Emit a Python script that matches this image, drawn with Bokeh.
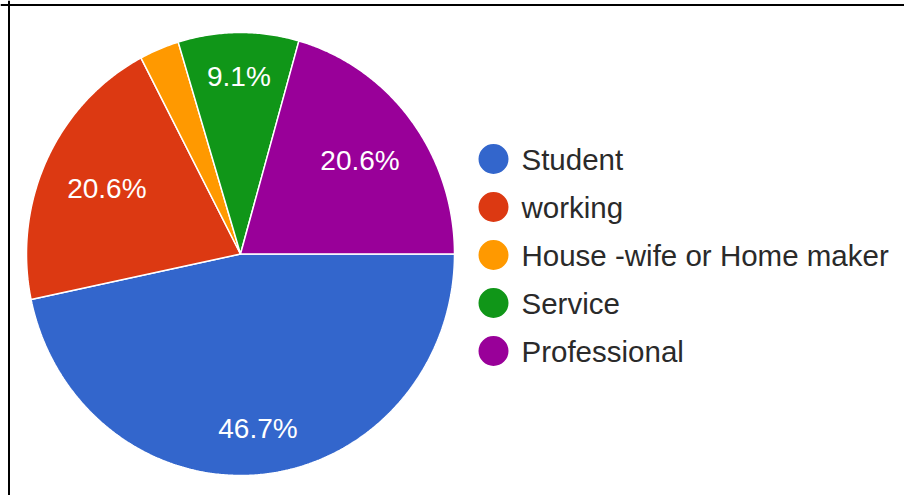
import numpy as np
from bokeh.plotting import figure
from bokeh.models import Range1d, Span, ColumnDataSource
from bokeh.core.properties import value
from bokeh.embed import file_html
from bokeh.resources import INLINE

# ---- data ----
categories = ["Student", "working", "House -wife or Home maker", "Service", "Professional"]
percents = [46.7, 20.6, 3.0, 9.1, 20.6]
colors = ["#3366CC", "#DC3912", "#FF9900", "#109618", "#990099"]

# ---- layout (pixel space) ----
W, H = 904, 495
CX, CY = 240.0, 253.5
RX, RY = 214.0, 221.5
LABEL_FS = 28
LEG_FS = 29.5
LEG_X, LEG_Y0, LEG_DY = 493.0, 158.5, 48.0

p = figure(width=W, height=H, output_backend="svg", toolbar_location=None,
           x_range=Range1d(0, W), y_range=Range1d(H, 0),
           x_axis_location=None, y_axis_location=None, min_border=0)
p.grid.visible = False
p.outline_line_color = None
p.background_fill_color = "white"
p.border_fill_color = "white"

total = float(sum(percents))
fracs = np.array(percents) / total
ends = np.cumsum(fracs) * 2 * np.pi
starts = ends - fracs * 2 * np.pi

xs, ys = [], []
for a0, a1 in zip(starts, ends):
    t = np.linspace(a0, a1, max(8, int((a1 - a0) * 120)))
    xs.append([CX] + list(CX + RX * np.cos(t)) + [CX])
    ys.append([CY] + list(CY + RY * np.sin(t)) + [CY])

src = ColumnDataSource(dict(xs=xs, ys=ys, color=colors))
p.patches("xs", "ys", source=src, fill_color="color", line_color="white", line_width=1.5)

# slice labels: pushed outward as far as the text box fits
lx, ly, lt = [], [], []
for v, a0, a1 in zip(percents, starts, ends):
    if v / total * 100 < 5:
        continue
    txt = f"{v / total * 100:.1f}%"
    mid = (a0 + a1) / 2
    bw = 0.57 * LABEL_FS * len(txt) / 2
    bh = 0.36 * LABEL_FS
    f = 0.8
    while f > 0.3:
        dx = f * RX * np.cos(mid)
        dy = f * RY * np.sin(mid)
        cxn = (abs(dx) + bw) / RX
        cyn = (abs(dy) + bh) / RY
        if np.hypot(cxn, cyn) <= 0.88:
            break
        f -= 0.01
    lx.append(CX + f * RX * np.cos(mid))
    ly.append(CY + f * RY * np.sin(mid))
    lt.append(txt)

p.text(x=lx, y=ly, text=lt, text_font=value("Liberation Sans"),
       text_font_size=f"{LABEL_FS}px", text_align="center", text_baseline="middle",
       text_color="white")

# legend
n = len(categories)
leg_y = [LEG_Y0 + i * LEG_DY for i in range(n)]
p.scatter(x=[LEG_X] * n, y=leg_y, size=30, marker="circle", fill_color=colors, line_color=None)
p.text(x=[LEG_X + 28] * n, y=leg_y, text=categories, text_font=value("Liberation Sans"),
       text_font_size=f"{LEG_FS}px", text_align="left", text_baseline="middle",
       text_color="#2a2a2a")

# frame lines (top and left only)
p.add_layout(Span(location=4.5, dimension="width", line_color="black", line_width=2))
p.add_layout(Span(location=8.5, dimension="height", line_color="black", line_width=2))

open("out.html", "w").write(file_html(p, INLINE))
